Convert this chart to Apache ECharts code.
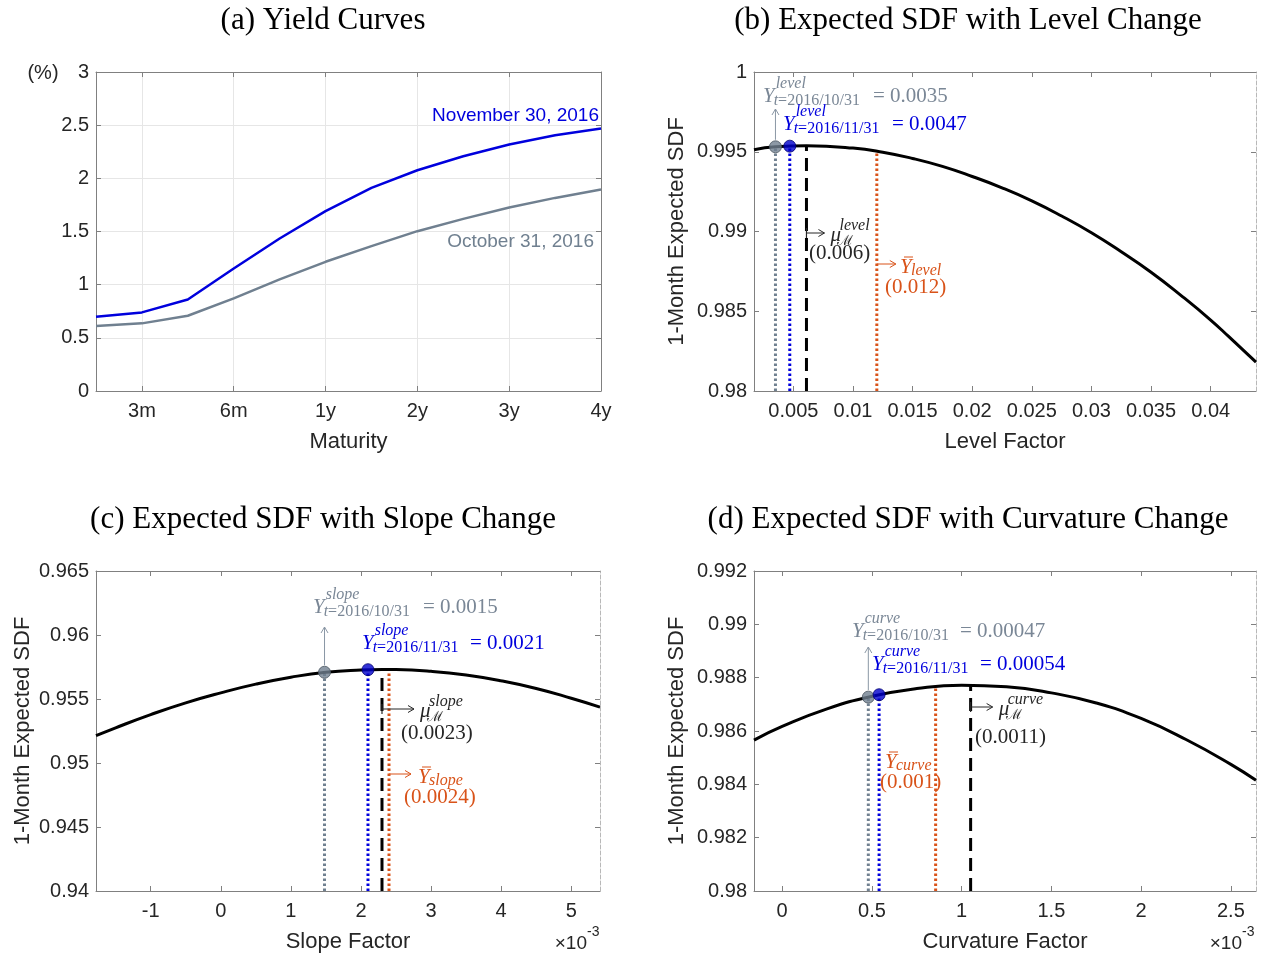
<!DOCTYPE html>
<html>
<head>
<meta charset="utf-8">
<title>Expected SDF</title>
<script src="https://cdn.jsdelivr.net/npm/echarts@6.0.0/dist/echarts.min.js"></script>
<style>
  html, body { margin: 0; padding: 0; background: #fff; }
  #chart { width: 1265px; height: 955px; }
</style>
</head>
<body>
<div id="chart"></div>
<script>
// (a) yield curves, maturity position 1 = 3m ... 6 = 4y
const maturityPos = [0.5, 1, 1.5, 2, 2.5, 3, 3.5, 4, 4.5, 5, 5.5, 6]
const maturityTickPos = [1, 2, 3, 4, 5, 6]
const maturityTickLabels = ['3m', '6m', '1y', '2y', '3y', '4y']
const yieldNov = [0.698, 0.739, 0.861, 1.152, 1.434, 1.691, 1.91, 2.076, 2.208, 2.318, 2.405, 2.468]
const yieldOct = [0.611, 0.636, 0.708, 0.871, 1.049, 1.215, 1.362, 1.503, 1.619, 1.726, 1.816, 1.895]

// (b) level factor
const levelRange = [0.0017, 0.0438]
const levelTicks = [0.005, 0.01, 0.015, 0.02, 0.025, 0.03, 0.035, 0.04]
const levelX = [0.0017, 0.0035, 0.0061, 0.01, 0.0125, 0.015, 0.0175, 0.02, 0.0225, 0.025, 0.0275, 0.03,
  0.0325, 0.035, 0.0375, 0.04, 0.0415, 0.0438]
const levelSdf = [0.99512, 0.99531, 0.99537, 0.99523, 0.99497, 0.99458, 0.99408, 0.99345, 0.99274, 0.99192, 0.99097, 0.98992,
  0.98873, 0.98745, 0.986, 0.98445, 0.98342, 0.98181]
// marks: [Oct 31, Nov 30, mu, Y bar]
const levelMarkX = [0.0035, 0.0047, 0.0061, 0.012]
const levelMarkTop = [0.99531, 0.99535, 0.99537, 0.995]

// (c) slope factor
const slopeRange = [-0.00178, 0.00541]
const slopeTicks = [-0.001, 0, 0.001, 0.002, 0.003, 0.004, 0.005]
const slopeX = [-0.00178, -0.0015, -0.001, -0.0005, 0, 0.0005, 0.001, 0.0015, 0.002, 0.0023, 0.0025, 0.003, 0.0035, 0.004, 0.0045, 0.005, 0.00541]
const slopeSdf = [0.95213, 0.95275, 0.95378, 0.9547, 0.95548, 0.95616, 0.9567, 0.95709, 0.95727, 0.95731, 0.9573, 0.95716, 0.95687, 0.95642, 0.95582, 0.95506, 0.95437]
const slopeMarkX = [0.00148, 0.0021, 0.0023, 0.0024]
const slopeMarkTop = [0.95709, 0.95729, 0.95731, 0.95731]

// (d) curvature factor
const curveRange = [-0.000157, 0.00264]
const curveTicks = [0, 0.0005, 0.001, 0.0015, 0.002, 0.0025]
const curveX = [-0.000157, 0, 0.00025, 0.0005, 0.00075, 0.001, 0.00125, 0.0015, 0.00175, 0.002, 0.00225, 0.0025, 0.00264]
const curveSdf = [0.98566, 0.98617, 0.98683, 0.9873, 0.98759, 0.98772, 0.98766, 0.98743, 0.98705, 0.98647, 0.98568, 0.98475, 0.98415]
const curveMarkX = [0.00048, 0.00054, 0.00105, 0.000855]
const curveMarkTop = [0.98727, 0.98736, 0.98772, 0.98767]

const sans = '"Liberation Sans", Arial, Helvetica, sans-serif'
const serif = '"Liberation Serif", "DejaVu Serif", serif'
const axisGray = '#808080'
const textDark = '#262626'
const colGray = '#708090'
const colBlue = '#0000dd'
const colOrange = '#D95319'
const grayText = '#7a8796'

const zip = (xs, ys) => xs.map((x, i) => [x, ys[i]])

function xBottom(g, min, max, ticks, fmt, name, split) {
  return {
    type: 'value', gridIndex: g, position: 'bottom', min, max,
    axisLine: { show: true, onZero: false, lineStyle: { color: axisGray, width: 1 } },
    axisTick: { show: true, inside: true, length: 5, customValues: ticks, lineStyle: { color: axisGray } },
    axisLabel: { customValues: ticks, formatter: fmt, color: textDark, fontSize: 20, fontFamily: sans, margin: 10 },
    splitLine: { show: !!split, lineStyle: { color: '#e6e6e6' } },
    name, nameLocation: 'middle', nameGap: 40, nameMoveOverlap: false,
    nameTextStyle: { color: textDark, fontSize: 22, fontFamily: sans },
  }
}
function xTop(g, min, max, ticks) {
  return {
    type: 'value', gridIndex: g, position: 'top', min, max,
    axisLine: { show: true, onZero: false, lineStyle: { color: axisGray, width: 1 } },
    axisTick: { show: true, inside: true, length: 5, customValues: ticks, lineStyle: { color: axisGray } },
    axisLabel: { show: false, customValues: ticks },
    splitLine: { show: false },
  }
}
function yLeft(g, min, max, interval, name, gap) {
  return {
    type: 'value', gridIndex: g, position: 'left', min, max, interval,
    axisLine: { show: true, onZero: false, lineStyle: { color: axisGray, width: 1 } },
    axisTick: { show: true, inside: true, length: 5, lineStyle: { color: axisGray } },
    axisLabel: { color: textDark, fontSize: 20, fontFamily: sans, margin: 7 },
    splitLine: { show: g === 0, lineStyle: { color: '#e6e6e6' } },
    name, nameLocation: 'middle', nameGap: gap, nameMoveOverlap: false,
    nameTextStyle: { color: textDark, fontSize: 22, fontFamily: sans },
  }
}
function yRight(g, min, max, interval, dashed) {
  return {
    type: 'value', gridIndex: g, position: 'right', min, max, interval,
    axisLine: { show: true, onZero: false, lineStyle: { color: dashed ? '#b8b8b8' : axisGray, width: 1, type: dashed ? [4, 2] : 'solid' } },
    axisTick: { show: true, inside: true, length: 5, lineStyle: { color: axisGray } },
    axisLabel: { show: false },
    splitLine: { show: false },
  }
}

// grid g uses xAxis/yAxis index 2*g (bottom/left), 2*g+1 are the mirrored top/right
function curveSeries(g, xs, ys) {
  return {
    type: 'line', xAxisIndex: 2 * g, yAxisIndex: 2 * g, data: zip(xs, ys),
    symbol: 'none', smooth: 0.5, silent: true, z: 4,
    lineStyle: { color: '#000', width: 3 },
  }
}
const markStyles = [
  { color: colGray, width: 3, type: [2.5, 2.5] },
  { color: colBlue, width: 3, type: [2.5, 2.5] },
  { color: '#000', width: 3, type: [13, 7] },
  { color: colOrange, width: 3, type: [2.5, 2.5] },
]
function markSeries(g, xs, tops, bottom) {
  const out = xs.map((x, i) => ({
    type: 'line', xAxisIndex: 2 * g, yAxisIndex: 2 * g, data: [[x, bottom], [x, tops[i]]],
    symbol: 'none', silent: true, z: 3, lineStyle: markStyles[i],
  }))
  out.push({
    type: 'scatter', xAxisIndex: 2 * g, yAxisIndex: 2 * g, data: [[xs[0], tops[0]]], symbolSize: 12, z: 6, silent: true,
    itemStyle: { color: colGray, borderColor: '#4a5560', borderWidth: 1 },
  })
  out.push({
    type: 'scatter', xAxisIndex: 2 * g, yAxisIndex: 2 * g, data: [[xs[1], tops[1]]], symbolSize: 12, z: 6, silent: true,
    itemStyle: { color: '#0000cc', borderColor: '#000070', borderWidth: 1 },
  })
  return out
}

const chart = echarts.init(document.getElementById('chart'))
chart.setOption({
  animation: false,
  backgroundColor: '#fff',
  grid: [
    { left: 96, top: 72, width: 505, height: 319, outerBoundsMode: 'none' },
    { left: 754, top: 72, width: 502, height: 319, outerBoundsMode: 'none' },
    { left: 96, top: 571, width: 504, height: 320, outerBoundsMode: 'none' },
    { left: 754, top: 571, width: 502, height: 320, outerBoundsMode: 'none' },
  ],
  xAxis: [
    xBottom(0, 0.5, 6, maturityTickPos, v => maturityTickLabels[maturityTickPos.indexOf(v)] || '', 'Maturity', true),
    xTop(0, 0.5, 6, maturityTickPos),
    xBottom(1, levelRange[0], levelRange[1], levelTicks, v => String(+v.toFixed(3)), 'Level Factor'),
    xTop(1, levelRange[0], levelRange[1], levelTicks),
    xBottom(2, slopeRange[0], slopeRange[1], slopeTicks, v => String(Math.round(v * 1000)), 'Slope Factor'),
    xTop(2, slopeRange[0], slopeRange[1], slopeTicks),
    xBottom(3, curveRange[0], curveRange[1], curveTicks, v => String(+(v * 1000).toFixed(1)), 'Curvature Factor'),
    xTop(3, curveRange[0], curveRange[1], curveTicks),
  ],
  yAxis: [
    yLeft(0, 0, 3, 0.5, '', 40),
    yRight(0, 0, 3, 0.5, false),
    yLeft(1, 0.98, 1, 0.005, '1-Month Expected SDF', 66),
    yRight(1, 0.98, 1, 0.005, true),
    yLeft(2, 0.94, 0.965, 0.005, '1-Month Expected SDF', 62),
    yRight(2, 0.94, 0.965, 0.005, true),
    yLeft(3, 0.98, 0.992, 0.002, '1-Month Expected SDF', 66),
    yRight(3, 0.98, 0.992, 0.002, true),
  ],
  series: [
    { type: 'line', xAxisIndex: 0, yAxisIndex: 0, data: zip(maturityPos, yieldOct), symbol: 'none', silent: true,
      lineStyle: { color: colGray, width: 2.5 } },
    { type: 'line', xAxisIndex: 0, yAxisIndex: 0, data: zip(maturityPos, yieldNov), symbol: 'none', silent: true,
      lineStyle: { color: colBlue, width: 2.5 } },
    curveSeries(1, levelX, levelSdf),
    ...markSeries(1, levelMarkX, levelMarkTop, 0.98),
    curveSeries(2, slopeX, slopeSdf),
    ...markSeries(2, slopeMarkX, slopeMarkTop, 0.94),
    curveSeries(3, curveX, curveSdf),
    ...markSeries(3, curveMarkX, curveMarkTop, 0.98),
  ],
})

// ---- annotations ----
const measureCtx = document.createElement('canvas').getContext('2d')
function measure(s, size, italic) {
  measureCtx.font = (italic ? 'italic ' : '') + size + 'px ' + serif
  return measureCtx.measureText(s).width
}
function txt(x, y, text, opt) {
  return {
    type: 'text', x, y, silent: true, z: 10,
    style: Object.assign({ text, fill: textDark, fontSize: 21, fontFamily: serif, align: 'left', verticalAlign: 'middle' }, opt),
  }
}
function seg(x1, y1, x2, y2, color, w) {
  return { type: 'line', silent: true, z: 10, shape: { x1, y1, x2, y2 }, style: { stroke: color, lineWidth: w || 1 } }
}
function arrowUp(x, y1, y2, color) {
  return [
    seg(x, y1, x, y2, color),
    { type: 'polyline', silent: true, z: 10, shape: { points: [[x - 3.5, y2 + 6], [x, y2], [x + 3.5, y2 + 6]] }, style: { stroke: color, lineWidth: 1, fill: null } },
  ]
}
function arrowRight(x1, x2, y, color, bar) {
  const out = [
    seg(x1, y, x2, y, color),
    { type: 'polyline', silent: true, z: 10, shape: { points: [[x2 - 6, y - 3.5], [x2, y], [x2 - 6, y + 3.5]] }, style: { stroke: color, lineWidth: 1, fill: null } },
  ]
  if (bar) out.push(seg(x1, y - 5, x1, y + 5, color, 1.2))
  return out
}
function yLab(x, y, sup, date, tail, tailX, color) {
  const wY = measure('Y', 21, true)
  const ital = { fontStyle: 'italic', fontSize: 16, fontFamily: serif, fill: color }
  return [
    txt(x, y, 'Y', { fill: color, fontStyle: 'italic' }),
    txt(x + wY + 1, y - 12, sup, { fill: color, fontStyle: 'italic', fontSize: 16 }),
    txt(x + wY - 1, y + 5, '{i|t}=' + date, { fill: color, fontSize: 16, rich: { i: ital } }),
    txt(tailX, y, tail, { fill: color }),
  ]
}
function muLab(x0, len, y, sup, val, valX, valY) {
  const e = x0 + len
  return [
    ...arrowRight(x0, e, y, textDark, true),
    txt(e + 6, y + 2, 'μ', { fontStyle: 'italic' }),
    txt(e + 15, y - 7, sup, { fontStyle: 'italic', fontSize: 16 }),
    txt(e + 13, y + 8, 'ℳ', { fontSize: 14 }),
    txt(valX, valY, val),
  ]
}
function barLab(x, y, sub, val, valX, valY) {
  return [
    txt(x, y, 'Y', { fill: colOrange, fontStyle: 'italic' }),
    seg(x + 4, y - 10, x + 13, y - 10, colOrange, 1),
    txt(x + 11, y + 4, sub, { fill: colOrange, fontStyle: 'italic', fontSize: 16 }),
    txt(valX, valY, val, { fill: colOrange }),
  ]
}
const px = (g, x, y) => chart.convertToPixel({ xAxisIndex: 2 * g, yAxisIndex: 2 * g }, [x, y])

const els = [
  txt(323, 21, '(a) Yield Curves', { fontSize: 31, align: 'center', fill: '#000' }),
  txt(968, 21, '(b) Expected SDF with Level Change', { fontSize: 31, align: 'center', fill: '#000' }),
  txt(323, 520, '(c) Expected SDF with Slope Change', { fontSize: 31, align: 'center', fill: '#000' }),
  txt(968, 520, '(d) Expected SDF with Curvature Change', { fontSize: 31, align: 'center', fill: '#000' }),
  txt(43, 73, '(%)', { fontFamily: sans, fontSize: 20, align: 'center' }),
  txt(599, 116, 'November 30, 2016', { fontFamily: sans, fontSize: 19, fill: colBlue, align: 'right' }),
  txt(594, 242, 'October 31, 2016', { fontFamily: sans, fontSize: 19, fill: colGray, align: 'right' }),
  txt(587, 944, '×10', { fontFamily: sans, fontSize: 19, align: 'right' }),
  txt(587, 932, '-3', { fontFamily: sans, fontSize: 14 }),
  txt(1242, 944, '×10', { fontFamily: sans, fontSize: 19, align: 'right' }),
  txt(1242, 932, '-3', { fontFamily: sans, fontSize: 14 }),
]

// (b)
let p = px(1, levelMarkX[0], levelMarkTop[0])
els.push(...arrowUp(p[0], p[1] - 7, 109, '#8a97a5'))
els.push(...yLab(763, 96, 'level', '2016/10/31', '= 0.0035', 873, grayText))
els.push(...yLab(783, 124, 'level', '2016/11/31', '= 0.0047', 892, colBlue))
p = px(1, levelMarkX[2], 0.99)
els.push(...muLab(p[0], 18, 233, 'level', '(0.006)', 809, 253))
p = px(1, levelMarkX[3], 0.99)
els.push(...arrowRight(p[0], p[0] + 19, 264, colOrange, false))
els.push(...barLab(900, 267, 'level', '(0.012)', 885, 287))

// (c)
p = px(2, slopeMarkX[0], slopeMarkTop[0])
els.push(...arrowUp(p[0], p[1] - 7, 627, '#8a97a5'))
els.push(...yLab(313, 607, 'slope', '2016/10/31', '= 0.0015', 423, grayText))
els.push(...yLab(362, 643, 'slope', '2016/11/31', '= 0.0021', 470, colBlue))
p = px(2, slopeMarkX[2], 0.95)
els.push(...muLab(p[0], 32, 709, 'slope', '(0.0023)', 401, 733))
p = px(2, slopeMarkX[3], 0.95)
els.push(...arrowRight(p[0], p[0] + 22, 774, colOrange, false))
els.push(...barLab(418, 777, 'slope', '(0.0024)', 404, 797))

// (d)
p = px(3, curveMarkX[0], curveMarkTop[0])
els.push(...arrowUp(p[0], p[1] - 7, 647, '#8a97a5'))
els.push(...yLab(852, 631, 'curve', '2016/10/31', '= 0.00047', 960, grayText))
els.push(...yLab(872, 664, 'curve', '2016/11/31', '= 0.00054', 980, colBlue))
p = px(3, curveMarkX[2], 0.985)
els.push(...muLab(p[0], 22, 707, 'curve', '(0.0011)', 975, 737))
els.push(...barLab(885, 762, 'curve', '(0.001)', 880, 782))

chart.setOption({ graphic: els })
</script>
</body>
</html>
